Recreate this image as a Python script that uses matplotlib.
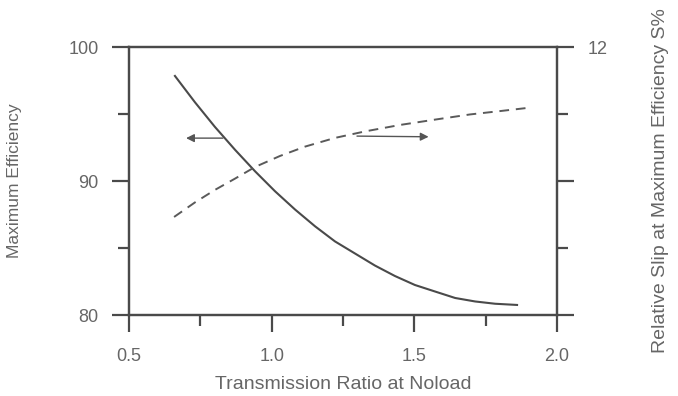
import matplotlib
matplotlib.use("Agg")
import matplotlib.pyplot as plt
from matplotlib.ticker import MultipleLocator, FixedLocator

plt.rcParams['font.family'] = ['Liberation Sans', 'DejaVu Sans']

# Maximum efficiency (left axis, solid)
eff_x = [0.661, 0.731, 0.801, 0.872, 0.942, 1.012, 1.082, 1.152, 1.222,
         1.292, 1.362, 1.432, 1.502, 1.573, 1.643, 1.713, 1.783, 1.860]
eff_y = [97.84, 95.88, 94.04, 92.32, 90.72, 89.23, 87.87, 86.62, 85.49,
         84.59, 83.69, 82.91, 82.24, 81.75, 81.27, 81.01, 80.84, 80.75]

# Relative slip S% (right axis, dashed)
slip_x = [0.658, 0.731, 0.801, 0.872, 0.942, 1.029, 1.117, 1.222, 1.327,
          1.450, 1.573, 1.695, 1.800, 1.895]
slip_y = [4.39, 5.04, 5.60, 6.11, 6.63, 7.12, 7.54, 7.93, 8.22,
          8.51, 8.75, 8.98, 9.13, 9.27]

# Arrow annotations (data coords: x, left-axis y)
arrow_left = ((0.829, 93.2), (0.70, 93.2))
arrow_right = ((1.299, 93.35), (1.55, 93.3))

x_major = [0.5, 1.0, 1.5, 2.0]
x_labels = ['0.5', '1.0', '1.5', '2.0']
y_major = [80, 90, 100]
r_major = [0, 6, 12]
r_labels = ['', '', '12']

line_c = '#4a4a4a'
txt_c = '#666666'

fig = plt.figure(figsize=(6.78, 3.96), dpi=100)
ax = fig.add_axes([129/678, 1-315/396, (557-129)/678, (315-47)/396])
ax2 = ax.twinx()

ax.plot(eff_x, eff_y, color=line_c, lw=1.5)
ax2.plot(slip_x, slip_y, color='#5a5a5a', lw=1.4, ls=(0, (5, 3.5)))

for (start, end) in (arrow_left, arrow_right):
    ax.annotate('', xy=end, xytext=start,
                arrowprops=dict(arrowstyle='-|>', color='#555555', lw=1.0,
                                mutation_scale=12, shrinkA=0, shrinkB=0))

ax.set_xlim(0.5, 2.0)
ax.set_ylim(80, 100)
ax2.set_ylim(0, 12)

ax.xaxis.set_major_locator(FixedLocator(x_major))
ax.set_xticklabels(x_labels)
ax.xaxis.set_minor_locator(MultipleLocator(0.25))
ax.yaxis.set_major_locator(FixedLocator(y_major))
ax.yaxis.set_minor_locator(MultipleLocator(5))
ax2.yaxis.set_major_locator(FixedLocator(r_major))
ax2.set_yticklabels(r_labels)
ax2.yaxis.set_minor_locator(MultipleLocator(3))

for a in (ax, ax2):
    for s in a.spines.values():
        s.set_color('#4a4a4a')
        s.set_linewidth(1.6)
    a.tick_params(which='major', direction='out', length=12, width=1.6,
                  color='#4a4a4a', labelcolor=txt_c, labelsize=13, pad=10)
    a.tick_params(which='minor', direction='out', length=8, width=1.6, color='#4a4a4a')
ax.tick_params(axis='x', which='major', pad=12)

ax.set_xlabel('Transmission Ratio at Noload', fontsize=14, color=txt_c)
ax.xaxis.set_label_coords(0.5, -0.228)
ax.set_ylabel('Maximum Efficiency', fontsize=12.5, color=txt_c)
ax.yaxis.set_label_coords(-0.25, 0.5)
ax2.set_ylabel('Relative Slip at Maximum Efficiency S%', fontsize=14, color=txt_c)
ax2.yaxis.set_label_coords(1.222, 0.5)

fig.savefig('out.png', dpi=100)
